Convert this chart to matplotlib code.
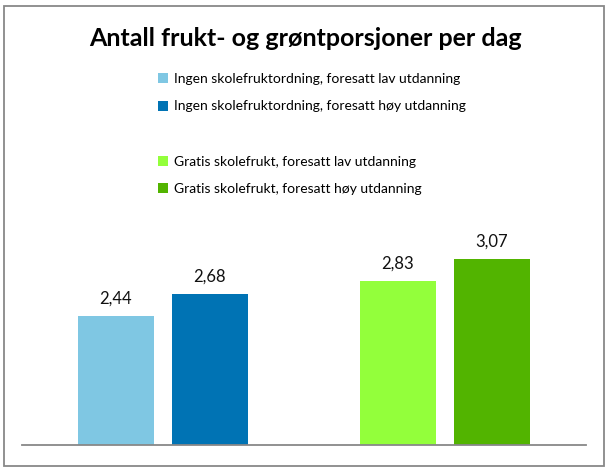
import matplotlib.pyplot as plt
from matplotlib.patches import Patch, Rectangle

plt.rcParams['font.family'] = ['Lato', 'DejaVu Sans']

title = 'Antall frukt- og grøntporsjoner per dag'
series = ['Ingen skolefruktordning, foresatt lav utdanning',
          'Ingen skolefruktordning, foresatt høy utdanning',
          'Gratis skolefrukt, foresatt lav utdanning',
          'Gratis skolefrukt, foresatt høy utdanning']
values = [2.44, 2.68, 2.83, 3.07]
colors = ['#7FC7E3', '#0073B4', '#93FF3B', '#52B400']


def main():
    fig = plt.figure(figsize=(6.1, 4.7), dpi=100)
    ax = fig.add_axes([22 / 610, 25 / 470, 564 / 610, 222 / 470])

    # two groups of two bars, one empty slot between groups
    xs = [1, 2, 4, 5]
    bars = ax.bar(xs, [v - 1 for v in values], bottom=1, width=0.8, color=colors)
    for x, v in zip(xs, values):
        ax.text(x, v + 0.1, ('%.2f' % v).replace('.', ','), ha='center', va='bottom',
                fontsize=12, color='#111111')

    ax.set_xlim(0, 6)
    ax.set_ylim(1, 3.47)
    for s in ['top', 'right', 'left']:
        ax.spines[s].set_visible(False)
    ax.spines['bottom'].set_color('#888888')
    ax.spines['bottom'].set_linewidth(1.3)
    ax.set_xticks([])
    ax.set_yticks([])
    ax.patch.set_alpha(0)

    fig.text(0.5, 1 - 38 / 470, title, ha='center', va='center', fontsize=18, fontweight='bold')

    handles = list(bars[:2]) + [Patch(color='none')] + list(bars[2:])
    labels = series[:2] + [''] + series[2:]
    fig.legend(handles, labels, loc='upper left', bbox_to_anchor=(151 / 610, 1 - 66 / 470),
               frameon=False, fontsize=10, handlelength=0.75, handleheight=0.75,
               handletextpad=0.4, labelspacing=1.12, borderpad=0)

    fig.add_artist(Rectangle((4 / 610, 4 / 470), 600 / 610, 460 / 470, transform=fig.transFigure,
                             fill=False, edgecolor='#888888', linewidth=1.3))

    plt.savefig('out.png')


if __name__ == '__main__':
    main()
